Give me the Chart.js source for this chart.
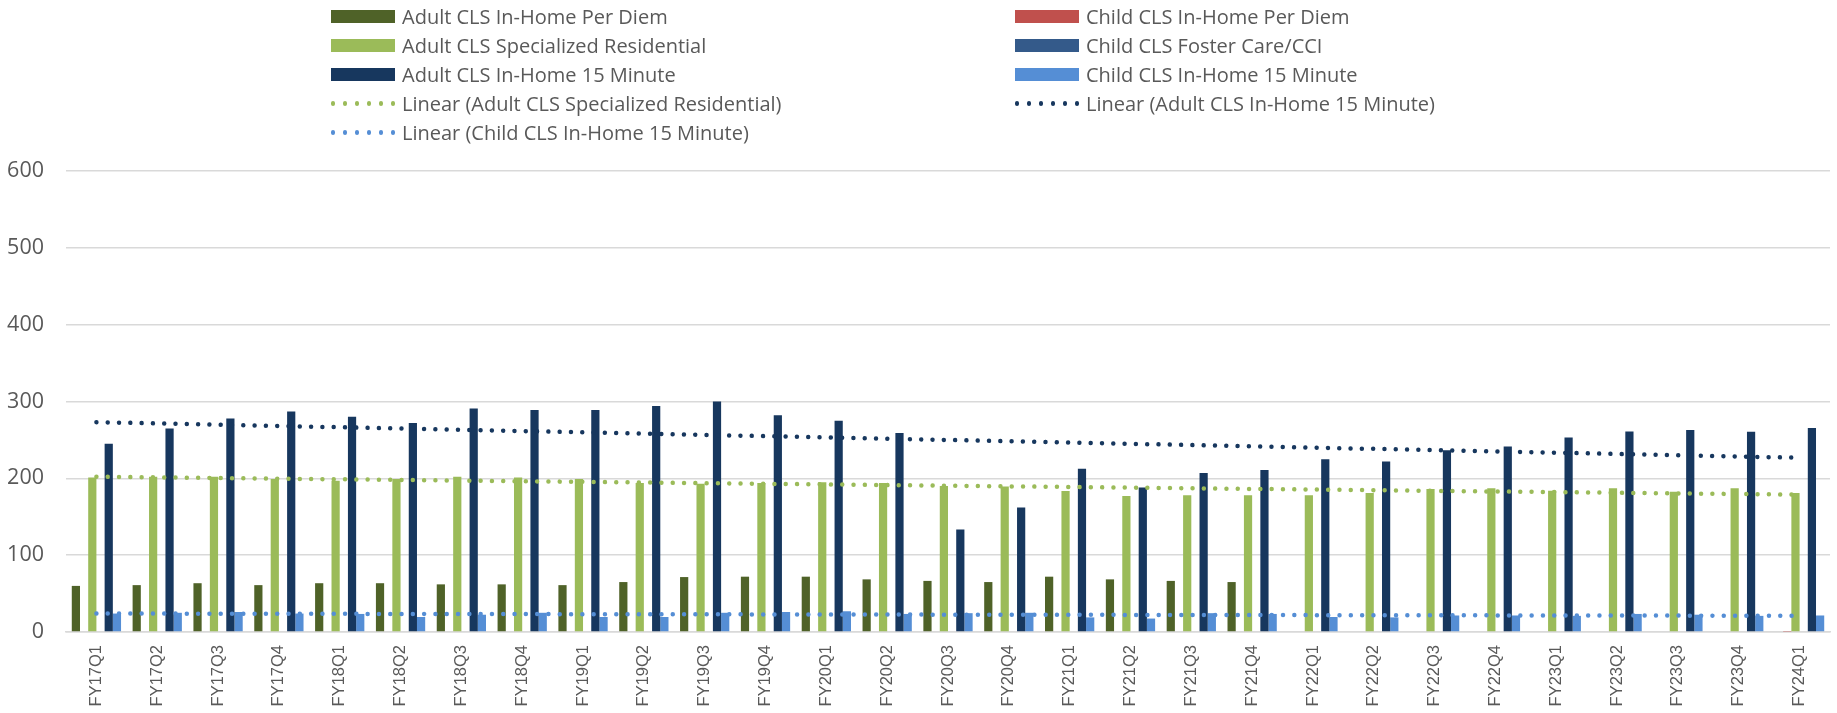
<!DOCTYPE html>
<html>
<head>
<meta charset="utf-8">
<script src="https://cdn.jsdelivr.net/npm/chart.js@4.4.1/dist/chart.umd.min.js"></script>
<style>
  html, body { margin: 0; padding: 0; background: #ffffff; }
  #wrap { position: relative; width: 1837px; height: 713px; }
  #chart { position: absolute; left: 0; top: 0; }
  #legend { position: absolute; left: 0; top: 0; width: 1837px; height: 150px;
            font-family: "Open Sans", sans-serif; font-size: 20px; color: #595959; }
  .item { position: absolute; height: 29px; display: flex; align-items: center; white-space: nowrap; }
  .swatch { width: 64px; height: 13px; margin-right: 7px; flex: none; }
  .dots { width: 64px; height: 13px; margin-right: 7px; position: relative; flex: none; }
  .dot { position: absolute; top: 4.4px; width: 4.3px; height: 4.3px; border-radius: 50%; }
</style>
</head>
<body>
<div id="wrap">
  <canvas id="chart" width="1837" height="713"></canvas>
  <div id="legend"></div>
</div>
<script>
// Quarterly categories
const categories = [
  'FY17Q1','FY17Q2','FY17Q3','FY17Q4',
  'FY18Q1','FY18Q2','FY18Q3','FY18Q4',
  'FY19Q1','FY19Q2','FY19Q3','FY19Q4',
  'FY20Q1','FY20Q2','FY20Q3','FY20Q4',
  'FY21Q1','FY21Q2','FY21Q3','FY21Q4',
  'FY22Q1','FY22Q2','FY22Q3','FY22Q4',
  'FY23Q1','FY23Q2','FY23Q3','FY23Q4',
  'FY24Q1'
];

// Series values per quarter
const adultPerDiem = [60, 61, 63.5, 61, 63.5, 63.5, 62, 62, 61, 65, 71.5, 72, 72, 68.5, 66.5, 65, 72, 68.5, 66.5, 65, 0, 0, 0, 0, 0, 0, 0, 0, 0];
const childPerDiem = [0, 0, 0, 0, 0, 0, 0, 0, 0, 0, 0, 0, 0, 0, 0, 0, 0, 0, 0, 0, 0, 0, 0, 0, 0, 0, 0, 0, 0.5];
const adultSpecRes = [201, 202, 202, 199, 197, 199, 202, 201, 199, 194, 193, 194, 195, 194, 190, 189.5, 183.5, 177, 178, 178, 178, 181, 186, 187, 184, 187, 182.5, 187, 181];
const childFoster  = [0, 0, 0, 0, 0, 0, 0, 0, 0, 0, 0, 0, 0, 0, 0, 0, 0, 0, 0, 0, 0, 0, 0, 0, 0, 0, 0, 0, 0];
const adult15Min   = [245, 265, 278, 287, 280, 272, 291, 289, 289, 294, 300, 282, 275, 259, 133.5, 162, 212.5, 188, 207, 211, 225, 222, 236.5, 241.5, 253, 261, 263, 260.5, 265.5];
const child15Min   = [24, 25, 26, 24, 23.5, 19.5, 22.5, 25, 19.5, 19.5, 25, 26, 27, 23.5, 24.5, 25, 19, 17.5, 24.5, 23.5, 19.5, 19, 21.5, 21.5, 21, 23.5, 22.5, 21, 21.5];

// Value axis
const yMin = 0;
const yMax = 600;
const yStep = 100;

// Least-squares linear trendline over the category index
function linearTrend(values) {
  const n = values.length;
  let sx = 0, sy = 0, sxx = 0, sxy = 0;
  values.forEach((v, i) => { const x = i + 1; sx += x; sy += v; sxx += x * x; sxy += x * v; });
  const slope = (n * sxy - sx * sy) / (n * sxx - sx * sx);
  const intercept = (sy - slope * sx) / n;
  return values.map((_, i) => intercept + slope * (i + 1));
}

const COLORS = {
  adultPerDiem: '#4F6228',
  childPerDiem: '#C0504D',
  adultSpecRes: '#9BBB59',
  childFoster:  '#345A8A',
  adult15Min:   '#17375E',
  child15Min:   '#558ED5'
};

function bar(label, data, color) {
  return { type: 'bar', label, data, backgroundColor: color, borderWidth: 0, order: 1 };
}
function trend(label, source, color) {
  return {
    type: 'line', label, data: linearTrend(source),
    borderColor: color, backgroundColor: color, borderWidth: 4.5,
    borderDash: [0.001, 11.3], borderCapStyle: 'round',
    pointRadius: 0, pointHoverRadius: 0, fill: false, tension: 0, order: 0
  };
}

const datasets = [
  bar('Adult CLS In-Home Per Diem', adultPerDiem, COLORS.adultPerDiem),
  bar('Child CLS In-Home Per Diem', childPerDiem, COLORS.childPerDiem),
  bar('Adult CLS Specialized Residential', adultSpecRes, COLORS.adultSpecRes),
  bar('Child CLS Foster Care/CCI', childFoster, COLORS.childFoster),
  bar('Adult CLS In-Home 15 Minute', adult15Min, COLORS.adult15Min),
  bar('Child CLS In-Home 15 Minute', child15Min, COLORS.child15Min),
  trend('Linear (Adult CLS Specialized Residential)', adultSpecRes, COLORS.adultSpecRes),
  trend('Linear (Adult CLS In-Home 15 Minute)', adult15Min, COLORS.adult15Min),
  trend('Linear (Child CLS In-Home 15 Minute)', child15Min, COLORS.child15Min)
];

const chart = new Chart(document.getElementById('chart'), {
  type: 'bar',
  data: { labels: categories, datasets },
  options: {
    responsive: false,
    devicePixelRatio: 1,
    animation: false,
    layout: { padding: { top: 171, left: 0, right: 7, bottom: 6 } },
    datasets: { bar: { categoryPercentage: 0.81, barPercentage: 1.0 } },
    plugins: { legend: { display: false }, tooltip: { enabled: false } },
    scales: {
      x: {
        grid: { display: false, drawTicks: false },
        border: { display: true, color: '#D9D9D9', width: 1.5 },
        ticks: {
          autoSkip: false, minRotation: 90, maxRotation: 90, padding: 13,
          color: '#595959', font: { family: '"Liberation Sans", Arial, sans-serif', size: 16.5 }
        },
        afterFit(scale) { scale.height = 75; }
      },
      y: {
        min: yMin, max: yMax,
        grid: { color: '#D9D9D9', lineWidth: 1.5, drawTicks: false },
        border: { display: false },
        ticks: {
          stepSize: yStep, padding: 22, color: '#595959',
          font: { family: '"Open Sans", sans-serif', size: 21.5 }
        },
        afterFit(scale) { scale.width = 66; }
      }
    }
  }
});

// Two-column legend built from the chart's datasets
(function buildLegend() {
  const host = document.getElementById('legend');
  const colX = [331, 1015];
  const rowTop = 2;
  const rowPitch = 29;
  chart.data.datasets.forEach((ds, i) => {
    const col = i % 2, row = Math.floor(i / 2);
    const item = document.createElement('div');
    item.className = 'item';
    item.style.left = colX[col] + 'px';
    item.style.top = (rowTop + row * rowPitch) + 'px';
    if (ds.type === 'line') {
      const d = document.createElement('span');
      d.className = 'dots';
      for (let k = 0; k < 6; k++) {
        const dot = document.createElement('span');
        dot.className = 'dot';
        dot.style.left = (k * 12) + 'px';
        dot.style.background = ds.borderColor;
        d.appendChild(dot);
      }
      item.appendChild(d);
    } else {
      const s = document.createElement('span');
      s.className = 'swatch';
      s.style.background = ds.backgroundColor;
      item.appendChild(s);
    }
    const t = document.createElement('span');
    t.textContent = ds.label;
    item.appendChild(t);
    host.appendChild(item);
  });
})();
</script>
</body>
</html>
